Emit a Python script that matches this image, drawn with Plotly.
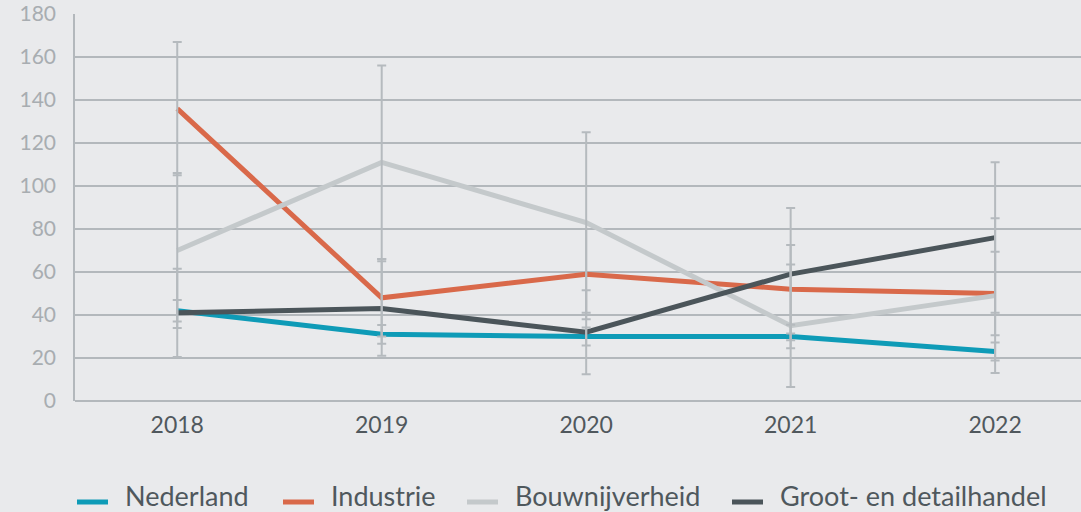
import plotly.graph_objects as go

years = ["2018", "2019", "2020", "2021", "2022"]

nederland = [42, 31, 30, 30, 23]
nederland_err = [5, 4.4, 4.2, 5.5, 4.2]

industrie = [136, 48, 59, 52, 50]
industrie_err = [31, 18, 21, 20.6, 19.4]

bouw = [70, 111, 83, 35, 49]
bouw_err = [36, 45, 42, 28.5, 36]

groot = [41, 43, 32, 59, 76]
groot_err = [20.5, 22, 19.5, 30.8, 35]

y_ticks = [0, 20, 40, 60, 80, 100, 120, 140, 160, 180]

names = ["Nederland", "Industrie", "Bouwnijverheid", "Groot- en detailhandel"]
values = [nederland, industrie, bouw, groot]
errors = [nederland_err, industrie_err, bouw_err, groot_err]
colors = ["#0e9bb7", "#d9694a", "#c4c9cb", "#4b555a"]

W, H = 1081, 512
ML, MR, MT, MB = 75, 0, 14, 111
PW, PH = W - ML - MR, H - MT - MB


def px_x(p):
    return (p - ML) / PW


def px_y(p):
    return (H - MB - p) / PH


fig = go.Figure()
for name, vals, col in zip(names, values, colors):
    fig.add_trace(go.Scatter(
        x=years, y=vals, mode="lines", name=name,
        line=dict(color=col, width=5),
        showlegend=False,
    ))
for vals, errs in zip(values, errors):
    fig.add_trace(go.Scatter(
        x=years, y=vals, mode="markers",
        marker=dict(size=0.1, color="rgba(0,0,0,0)"),
        error_y=dict(type="data", array=errs, visible=True,
                     color="#b5babe", thickness=2, width=4.5),
        showlegend=False, hoverinfo="skip",
    ))

# custom legend
legend_sym_x = [77, 283, 467, 732]
legend_y = 502
for name, col, sx in zip(names, colors, legend_sym_x):
    fig.add_shape(type="line", xref="paper", yref="paper",
                  x0=px_x(sx), x1=px_x(sx + 31), y0=px_y(legend_y), y1=px_y(legend_y),
                  line=dict(color=col, width=5))
    fig.add_annotation(text=name, xref="paper", yref="paper",
                       x=px_x(sx + 46), y=px_y(495), xanchor="left", yanchor="middle",
                       showarrow=False, font=dict(size=27, color="#4f585d"))

fig.update_layout(
    width=W, height=H,
    paper_bgcolor="#e9eaec", plot_bgcolor="#e9eaec",
    margin=dict(l=ML, r=MR, t=MT, b=MB),
    font=dict(family="Lato, sans-serif"),
    showlegend=False,
)
fig.update_xaxes(
    type="category", range=[-0.5, 4.42], automargin=False,
    showgrid=False, showline=False, zeroline=False,
    ticks="", tickfont=dict(size=23, color="#50585d"),
    ticklabelstandoff=8,
)
fig.update_yaxes(
    range=[0, 180], tickvals=y_ticks, automargin=False,
    showgrid=True, gridcolor="#b3b8bc", gridwidth=1.5,
    showline=True, linecolor="#b3b8bc", linewidth=1.5,
    zeroline=True, zerolinecolor="#b3b8bc", zerolinewidth=1.5,
    ticks="", tickfont=dict(size=21, color="#a8adb1"),
    ticklabelstandoff=13,
)

fig.write_html(
    "out.html",
    config={"displayModeBar": False},
    post_script="document.body.style.margin='0';document.body.style.background='#e9eaec';",
)
